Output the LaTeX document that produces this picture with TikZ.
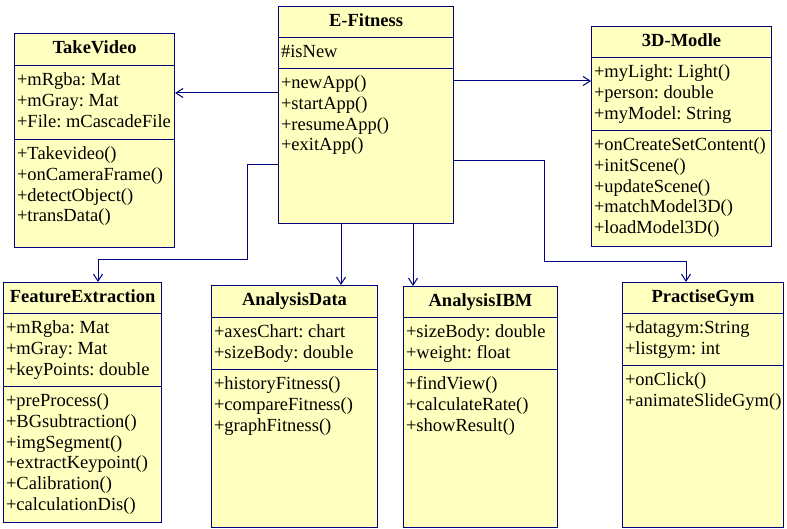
\documentclass[tikz,border=0pt]{standalone}
\usepackage{fontspec}
\setmainfont{Liberation Serif}
\usetikzlibrary{shapes.multipart,arrows.meta}
\definecolor{umlblue}{RGB}{0,0,128}
\definecolor{umlyellow}{RGB}{255,255,192}
% class compartments: width, height, text
\newcommand{\ctitle}[3]{\parbox[c][#2pt][t]{#1pt}{\centering\bfseries\rule{0pt}{19.5pt}#3}}
\newcommand{\cpart}[3]{\parbox[c][#2pt][t]{#1pt}{\raggedright\hyphenpenalty=10000\hbadness=10000\hfuzz=20pt\rule{0pt}{19.5pt}#3}}
\tikzset{
  umlclass/.style={rectangle split, rectangle split parts=3, draw=umlblue, fill=umlyellow,
    line width=1.1pt, inner xsep=2.5pt, inner ysep=0pt, minimum size=0pt, anchor=north west},
  assoc/.style={draw=umlblue, line width=1pt, -{Straight Barb[length=7pt,width=9pt]}}
}
\begin{document}
\begin{tikzpicture}[x=1pt, y=-1pt, font=\fontsize{18.5}{20.7}\selectfont\frenchspacing]
    \useasboundingbox (0,0) rectangle (787,529);

    \node[umlclass] (efitness) at (278,6) {\ctitle{170}{30}{E-Fitness}
      \nodepart{two}\cpart{170}{30}{\#isNew}
      \nodepart{three}\cpart{170}{154}{+newApp()\\+startApp()\\+resumeApp()\\+exitApp()}};
    \node[umlclass] (takevideo) at (14,33) {\ctitle{155}{31}{TakeVideo}
      \nodepart{two}\cpart{155}{73}{+mRgba: Mat\\+mGray: Mat\\+File:~mCascadeFile}
      \nodepart{three}\cpart{155}{107}{+Takevideo()\\+onCameraFrame()\\+detectObject()\\+transData()}};
    \node[umlclass] (modle3d) at (591,26) {\ctitle{175}{30}{3D-Modle}
      \nodepart{two}\cpart{175}{72}{+myLight: Light()\\+person: double\\+myModel: String}
      \nodepart{three}\cpart{175}{115}{+onCreateSetContent()\\+initScene()\\+updateScene()\\+matchModel3D()\\+loadModel3D()}};
    \node[umlclass] (featext) at (3,282) {\ctitle{153}{30}{FeatureExtraction}
      \nodepart{two}\cpart{153}{72}{+mRgba: Mat\\+mGray: Mat\\+keyPoints: double}
      \nodepart{three}\cpart{153}{135}{+preProcess()\\+BGsubtraction()\\+imgSegment()\\+extractKeypoint()\\+Calibration()\\+calculationDis()}};
    \node[umlclass] (anadata) at (211,285) {\ctitle{161}{31}{AnalysisData}
      \nodepart{two}\cpart{161}{51}{+axesChart: chart\\+sizeBody: double}
      \nodepart{three}\cpart{161}{157}{+historyFitness()\\+compareFitness()\\+graphFitness()}};
    \node[umlclass] (anaibm) at (403,286) {\ctitle{149}{30}{AnalysisIBM}
      \nodepart{two}\cpart{149}{51}{+sizeBody: double\\+weight: float}
      \nodepart{three}\cpart{149}{157}{+findView()\\+calculateRate()\\+showResult()}};
    \node[umlclass] (practgym) at (622,282) {\ctitle{156}{30}{PractiseGym}
      \nodepart{two}\cpart{156}{51}{+datagym:String\\+listgym: int}
      \nodepart{three}\cpart{156}{161}{+onClick()\\+animateSlideGym()}};

    \draw[assoc] ([yshift=-87pt]efitness.north west) -- ([yshift=-60pt]takevideo.north east);
    \draw[assoc] ([yshift=-75pt]efitness.north east) -- ([yshift=-55pt]modle3d.north west);
    \draw[assoc] ([yshift=-159pt]efitness.north west) -- ++(-31,0)
      |- ([xshift=95pt,yshift=22pt]featext.north west) -- ([xshift=95pt]featext.north west);
    \draw[assoc] ([xshift=63pt]efitness.south west) -- ([xshift=130pt]anadata.north west);
    \draw[assoc] ([xshift=135pt]efitness.south west) -- ([xshift=10pt]anaibm.north west);
    \draw[assoc] ([yshift=-155pt]efitness.north east) -- ++(90,0)
      |- ([xshift=64pt,yshift=20pt]practgym.north west) -- ([xshift=64pt]practgym.north west);
\end{tikzpicture}
\end{document}
